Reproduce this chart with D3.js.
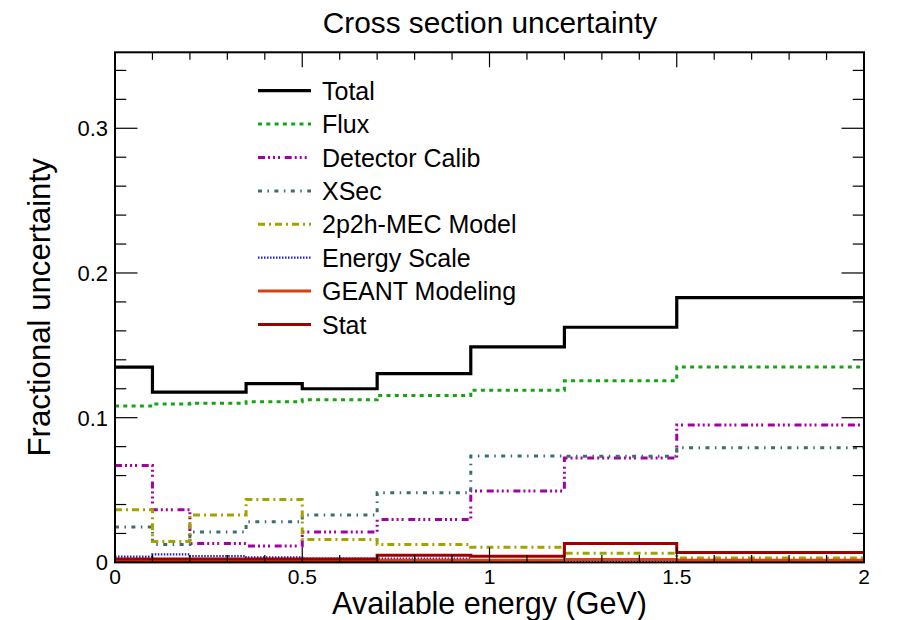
<!DOCTYPE html>
<html>
<head>
<meta charset="utf-8">
<script src="https://cdn.jsdelivr.net/npm/d3@7"></script>
<style>
  body { margin: 0; background: #fff; }
  svg { display: block; font-family: "Liberation Sans", Arial, Helvetica, sans-serif; }
</style>
</head>
<body>
<div id="chart"></div>
<script>
(function() {"use strict";

    // bin edges (GeV)
    var binEdges    = [0, 0.1, 0.2, 0.35, 0.5, 0.7, 0.95, 1.2, 1.5, 2.0];

    // fractional uncertainty per bin
    var total       = [0.135, 0.1177, 0.1177, 0.1235, 0.120, 0.1305, 0.149, 0.1625, 0.183];
    var flux        = [0.108, 0.1095, 0.110, 0.111, 0.1124, 0.1154, 0.119, 0.1255, 0.135];
    var detCalib    = [0.067, 0.0364, 0.0131, 0.0113, 0.021, 0.0297, 0.0493, 0.0721, 0.0949];
    var xsec        = [0.0244, 0.0124, 0.021, 0.0281, 0.0327, 0.0482, 0.0735, 0.0733, 0.0793];
    var mecModel    = [0.0364, 0.0145, 0.0327, 0.0435, 0.0159, 0.0124, 0.0104, 0.0064, 0.0031];
    var energyScale = [0.004, 0.0055, 0.0044, 0.0035, 0.0026, 0.0026, 0.0014, 0.0005, 0.0014];
    var geant       = [0.0012, 0.0012, 0.001, 0.001, 0.001, 0.0015, 0.0015, 0.002, 0.0015];
    var stat        = [0.0023, 0.0023, 0.0023, 0.0023, 0.0023, 0.005, 0.0042, 0.0131, 0.0068];

    // axis ticks
    var xMajorTicks = [0, 0.5, 1, 1.5, 2];
    var xTickLabels = ["0", "0.5", "1", "1.5", "2"];
    var yMajorTicks = [0, 0.1, 0.2, 0.3];
    var yTickLabels = ["0", "0.1", "0.2", "0.3"];

    var series = [
        {name: "Total",            values: total,       color: "#000000", width: 3.2, dash: null},
        {name: "Flux",             values: flux,        color: "#14a514", width: 3,   dash: "4,4.3"},
        {name: "Detector Calib",   values: detCalib,    color: "#a300a6", width: 3,   dash: "7,3,2,3,2,3,2,4.7"},
        {name: "XSec",             values: xsec,        color: "#3c6e6e", width: 3,   dash: "4,5.45,1.5,5.45"},
        {name: "2p2h-MEC Model",   values: mecModel,    color: "#a3a300", width: 3,   dash: "7,4,2,4"},
        {name: "Energy Scale",     values: energyScale, color: "#1c1cc8", width: 2.2, dash: "1.5,1.5"},
        {name: "GEANT Modeling",   values: geant,       color: "#d84010", width: 3,   dash: null},
        {name: "Stat",             values: stat,        color: "#a00000", width: 3,   dash: null}
    ];

    var W = 899, H = 620,
        frame = {left: 115, right: 864, top: 52.3, bottom: 562.4};

    var svg = d3.select("#chart").append("svg")
        .attr("width", W)
        .attr("height", H);

    svg.append("rect").attr("width", W).attr("height", H).attr("fill", "#fff");

    var x = d3.scaleLinear().domain([0, 2]).range([frame.left, frame.right]);
    var y = d3.scaleLinear().domain([0, 0.3525]).range([frame.bottom, frame.top]);

    // histogram step line: one point per bin edge, last value repeated
    var line = d3.line()
        .x(function(d) { return x(d[0]); })
        .y(function(d) { return y(d[1]); })
        .curve(d3.curveStepAfter);

    function stepPoints(values) {
        var pts = binEdges.map(function(e, i) {
            return [e, values[Math.min(i, values.length - 1)]];
        });
        return pts;
    }

    var plot = svg.append("g");
    series.forEach(function(s) {
        plot.append("path")
            .datum(stepPoints(s.values))
            .attr("d", line)
            .attr("fill", "none")
            .attr("stroke", s.color)
            .attr("stroke-width", s.width)
            .attr("stroke-dasharray", s.dash)
            .attr("stroke-linejoin", "miter");
    });

    // ROOT style ticks on all four sides
    var xMinor = d3.range(0, 2.0001, 0.1),
        yMinor = d3.range(0, 0.3525, 0.02),
        xTickLen = 15, yTickLen = 22.5;

    var axes = svg.append("g").attr("stroke", "#000").attr("stroke-width", 1.2);

    xMinor.forEach(function(v) {
        var isMajor = xMajorTicks.some(function(m) { return Math.abs(m - v) < 1e-6; });
        var len = isMajor ? xTickLen : xTickLen / 2;
        axes.append("line").attr("x1", x(v)).attr("x2", x(v))
            .attr("y1", frame.bottom).attr("y2", frame.bottom - len);
        axes.append("line").attr("x1", x(v)).attr("x2", x(v))
            .attr("y1", frame.top).attr("y2", frame.top + len);
    });

    yMinor.forEach(function(v) {
        var isMajor = yMajorTicks.some(function(m) { return Math.abs(m - v) < 1e-6; });
        var len = isMajor ? yTickLen : yTickLen / 2;
        axes.append("line").attr("y1", y(v)).attr("y2", y(v))
            .attr("x1", frame.left).attr("x2", frame.left + len);
        axes.append("line").attr("y1", y(v)).attr("y2", y(v))
            .attr("x1", frame.right).attr("x2", frame.right - len);
    });

    // frame
    svg.append("rect")
        .attr("x", frame.left).attr("y", frame.top)
        .attr("width", frame.right - frame.left)
        .attr("height", frame.bottom - frame.top)
        .attr("fill", "none").attr("stroke", "#000").attr("stroke-width", 2);

    // tick labels
    svg.append("g").selectAll("text").data(xMajorTicks).enter()
        .append("text")
        .attr("x", function(d) { return x(d); })
        .attr("y", 584)
        .attr("text-anchor", "middle")
        .attr("font-size", 21)
        .text(function(d, i) { return xTickLabels[i]; });

    svg.append("g").selectAll("text").data(yMajorTicks).enter()
        .append("text")
        .attr("x", 108)
        .attr("y", function(d) { return y(d) + 8; })
        .attr("text-anchor", "end")
        .attr("font-size", 22)
        .text(function(d, i) { return yTickLabels[i]; });

    // titles
    svg.append("text")
        .attr("x", 490).attr("y", 33)
        .attr("text-anchor", "middle")
        .attr("font-size", 29.8)
        .text("Cross section uncertainty");

    svg.append("text")
        .attr("x", (frame.left + frame.right) / 2).attr("y", 614)
        .attr("text-anchor", "middle")
        .attr("font-size", 30.5)
        .text("Available energy (GeV)");

    svg.append("text")
        .attr("transform", "translate(50," + ((frame.top + frame.bottom) / 2) + ") rotate(-90)")
        .attr("text-anchor", "middle")
        .attr("font-size", 31.2)
        .text("Fractional uncertainty");

    // legend
    var legend = svg.append("g");
    series.forEach(function(s, i) {
        var ly = 90.7 + i * 33.4;
        legend.append("line")
            .attr("x1", 258).attr("x2", 311)
            .attr("y1", ly).attr("y2", ly)
            .attr("stroke", s.color)
            .attr("stroke-width", s.width)
            .attr("stroke-dasharray", s.dash);
        legend.append("text")
            .attr("x", 322).attr("y", ly + 9)
            .attr("font-size", 25)
            .text(s.name);
    });

})();
</script>
</body>
</html>
